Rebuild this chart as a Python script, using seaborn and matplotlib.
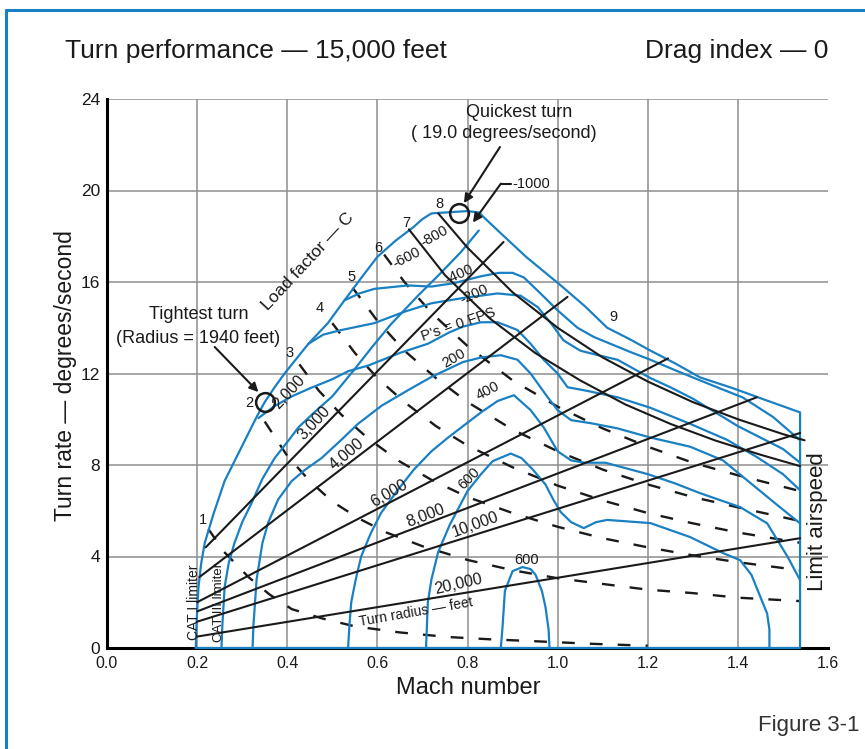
import matplotlib
matplotlib.use('Agg')
import matplotlib.pyplot as plt
import pandas as pd
import seaborn as sns
from matplotlib.lines import Line2D

BLUE = '#1a80c4'
INK = '#1a1a1a'
GRID = '#8e8e8e'

# axes ticks
MACH_TICKS = [0.0, 0.2, 0.4, 0.6, 0.8, 1.0, 1.2, 1.4, 1.6]
RATE_TICKS = [0, 4, 8, 12, 16, 20, 24]

# outer envelope (lift limit, 9 g limit, limit airspeed, floor)
env_m = [0.197, 0.199, 0.203, 0.209, 0.217, 0.237, 0.261, 0.299, 0.332, 0.35, 0.372, 0.394,
         0.447, 0.49, 0.527, 0.565, 0.60, 0.64, 0.68, 0.70, 0.72, 0.76, 0.80, 0.825, 0.87,
         0.93, 1.007, 1.06, 1.11, 1.16, 1.206, 1.26, 1.316, 1.39, 1.46, 1.538, 1.538, 0.197]
env_r = [0, 1.2, 2.66, 3.7, 4.6, 5.9, 7.3, 8.8, 10.1, 10.75, 11.4, 12.0,
         13.3, 14.2, 15.2, 16.2, 17.1, 17.8, 18.4, 18.75, 19.0, 19.05, 19.1, 19.04, 18.2,
         17.1, 15.85, 14.95, 14.0, 13.5, 13.0, 12.45, 11.83, 11.35, 10.85, 10.3, 0, 0]

# specific excess power contours (blue)
psm1000_m = [0.254, 0.256, 0.261, 0.270, 0.283, 0.30, 0.32, 0.345, 0.372, 0.40, 0.425, 0.46,
             0.50, 0.55, 0.59, 0.63, 0.69, 0.741, 0.785, 0.825]
psm1000_r = [0, 1.0, 2.66, 3.7, 4.6, 5.5, 6.3, 7.4, 8.3, 9.0, 9.65, 10.3,
             11.0, 12.2, 13.2, 14.15, 15.4, 16.4, 17.3, 18.25]

psm400_m = [0.527, 0.56, 0.593, 0.668, 0.72, 0.77, 0.83, 0.87, 0.90, 0.925, 0.962, 1.0,
            1.044, 1.08, 1.117, 1.16, 1.206, 1.26, 1.316, 1.36, 1.41, 1.478, 1.538]
psm400_r = [15.2, 15.5, 15.7, 15.85, 15.8, 15.95, 16.25, 16.4, 16.4, 16.2, 15.5, 14.76,
            14.0, 13.6, 13.3, 12.95, 12.6, 12.15, 11.7, 11.35, 10.96, 10.1, 9.08]

psm200_m = [0.447, 0.48, 0.52, 0.593, 0.66, 0.72, 0.79, 0.867, 0.918, 0.956, 0.985, 1.013,
            1.05, 1.09, 1.133, 1.206, 1.25, 1.30, 1.35, 1.40, 1.45, 1.50, 1.538]
psm200_r = [13.3, 13.7, 13.9, 14.2, 14.7, 15.07, 15.3, 15.5, 15.4, 14.9, 14.2, 13.45,
            13.0, 12.8, 12.6, 11.8, 11.4, 10.9, 10.3, 9.7, 9.2, 8.7, 8.1]

ps0_m = [0.336, 0.37, 0.41, 0.45, 0.50, 0.535, 0.58, 0.65, 0.712, 0.76, 0.79, 0.83, 0.867,
         0.911, 0.94, 0.969, 1.0, 1.022, 1.058, 1.133, 1.206, 1.294, 1.376, 1.442, 1.50, 1.538]
ps0_r = [10.05, 10.55, 11.0, 11.35, 11.75, 12.1, 12.35, 12.9, 13.3, 13.8, 14.05, 14.24, 14.24,
         13.9, 13.3, 12.6, 12.0, 11.4, 11.27, 10.96, 10.5, 9.8, 9.1, 8.35, 7.6, 6.9]

ps200_m = [0.323, 0.325, 0.332, 0.345, 0.358, 0.38, 0.41, 0.44, 0.476, 0.52, 0.557, 0.61,
           0.668, 0.72, 0.79, 0.83, 0.874, 0.911, 0.94, 0.978, 1.0, 1.03, 1.073, 1.133,
           1.206, 1.294, 1.367, 1.42, 1.493, 1.538]
ps200_r = [0, 1.0, 3.0, 4.6, 5.5, 6.5, 7.3, 7.8, 8.3, 9.1, 9.8, 10.6,
           11.27, 11.85, 12.5, 12.7, 12.8, 12.6, 12.0, 10.96, 10.4, 9.96, 9.83, 9.6,
           9.2, 8.8, 8.2, 7.34, 6.16, 5.45]

ps400_m = [0.535, 0.538, 0.542, 0.552, 0.564, 0.585, 0.608, 0.645, 0.681, 0.72, 0.757, 0.79,
           0.83, 0.867, 0.903, 0.94, 0.969, 1.0, 1.03, 1.06, 1.106, 1.20, 1.26, 1.316,
           1.405, 1.465, 1.51, 1.538]
ps400_r = [0, 1.0, 2.0, 3.0, 4.0, 5.0, 5.9, 6.9, 7.8, 8.6, 9.2, 9.7,
           10.3, 10.8, 11.05, 10.4, 9.65, 8.6, 8.2, 8.1, 8.1, 7.6, 7.2, 6.77,
           6.16, 5.45, 4.0, 2.97]

ps600_m = [0.708, 0.71, 0.712, 0.72, 0.735, 0.761, 0.80, 0.83, 0.856, 0.896, 0.92, 0.945,
           0.973, 0.99, 1.007, 1.03, 1.058, 1.085, 1.11, 1.206, 1.294, 1.367, 1.405, 1.43,
           1.45, 1.465, 1.47, 1.47]
ps600_r = [0, 1.0, 2.0, 3.0, 4.2, 5.4, 6.86, 7.6, 8.17, 8.5, 8.3, 7.8,
           7.15, 6.5, 5.94, 5.5, 5.24, 5.5, 5.6, 5.46, 4.85, 4.15, 3.84, 3.2,
           2.23, 1.5, 0.8, 0]

ps600b_m = [0.874, 0.878, 0.883, 0.90, 0.922, 0.94, 0.951, 0.965, 0.973, 0.98, 0.982]
ps600b_r = [0, 1.0, 2.5, 3.36, 3.54, 3.45, 3.2, 2.5, 1.8, 0.8, 0]

# load factor lines (1-6 dashed, 7-8 solid)
lf1_m = [0.225, 0.26, 0.314, 0.36, 0.41, 0.476, 0.549, 0.65, 0.757, 0.85, 0.945, 1.08, 1.2]
lf1_r = [5.2, 4.2, 3.1, 2.35, 1.7, 1.3, 0.95, 0.68, 0.48, 0.38, 0.3, 0.18, 0.1]
lf2_m = [0.35, 0.40, 0.45, 0.50, 0.56, 0.62, 0.70, 0.80, 0.90, 1.00, 1.10, 1.20, 1.30, 1.40, 1.538]
lf2_r = [9.9, 8.4, 7.3, 6.4, 5.65, 5.05, 4.45, 3.85, 3.4, 3.05, 2.8, 2.55, 2.4, 2.2, 2.05]
lf3_m = [0.427, 0.47, 0.52, 0.58, 0.65, 0.72, 0.80, 0.90, 1.00, 1.10, 1.20, 1.30, 1.40, 1.538]
lf3_r = [12.4, 11.25, 10.2, 9.15, 8.15, 7.35, 6.6, 5.9, 5.3, 4.8, 4.4, 4.05, 3.75, 3.4]
lf4_m = [0.50, 0.55, 0.60, 0.66, 0.73, 0.80, 0.90, 1.00, 1.10, 1.20, 1.30, 1.40, 1.538]
lf4_r = [14.2, 12.9, 11.8, 10.75, 9.7, 8.85, 7.9, 7.1, 6.45, 5.9, 5.45, 5.05, 4.6]
lf5_m = [0.545, 0.60, 0.66, 0.73, 0.80, 0.90, 1.00, 1.10, 1.20, 1.30, 1.40, 1.538]
lf5_r = [15.75, 14.3, 13.0, 11.8, 10.75, 9.55, 8.6, 7.8, 7.15, 6.6, 6.15, 5.55]
lf6_m = [0.615, 0.66, 0.72, 0.80, 0.90, 1.00, 1.10, 1.20, 1.30, 1.40, 1.538]
lf6_r = [17.2, 16.0, 14.65, 13.2, 11.7, 10.55, 9.6, 8.8, 8.1, 7.55, 6.86]
lf7_m = [0.67, 0.75, 0.85, 0.95, 1.05, 1.15, 1.25, 1.35, 1.45, 1.538]
lf7_r = [18.3, 16.3, 14.4, 12.9, 11.7, 10.65, 9.8, 9.07, 8.45, 7.95]
lf8_m = [0.735, 0.80, 0.90, 1.00, 1.10, 1.20, 1.30, 1.40, 1.50, 1.548]
lf8_r = [19.0, 17.5, 15.55, 14.0, 12.7, 11.65, 10.75, 10.0, 9.35, 9.08]

# turn radius lines: start and end points
radius_names = ['3,000', '4,000', '6,000', '8,000', '10,000', '20,000']
radius_m0 = [0.219, 0.205, 0.200, 0.200, 0.200, 0.200]
radius_r0 = [4.4, 3.1, 2.0, 1.6, 1.15, 0.5]
radius_m1 = [0.88, 1.022, 1.245, 1.442, 1.538, 1.538]
radius_r1 = [17.75, 15.35, 12.66, 10.96, 9.4, 4.8]

# labels on the chart: text, mach, rate, rotation
curve_labels = ['-600', '-800', '-400', '-200', "P's = 0 FPS", '200', '400', '600', '600']
curve_label_m = [0.664, 0.726, 0.781, 0.814, 0.779, 0.770, 0.845, 0.803, 0.930]
curve_label_r = [17.05, 18.0, 16.35, 15.46, 14.15, 12.67, 11.23, 7.4, 3.85]
curve_label_rot = [27, 29, 24, 24, 19, 30, 27, 45, 0]

radius_labels = ['2,000', '3,000', '4,000', '6,000', '8,000', '10,000', '20,000', 'Turn radius \u2014 feet']
radius_label_m = [0.403, 0.460, 0.531, 0.626, 0.706, 0.818, 0.779, 0.686]
radius_label_r = [11.2, 9.83, 8.48, 6.78, 5.77, 5.38, 2.8, 1.55]
radius_label_rot = [47, 47, 40, 30, 21, 20, 13, 10]

g_labels = ['1', '2', '3', '4', '5', '6', '7', '8', '9']
g_label_m = [0.214, 0.316, 0.405, 0.473, 0.542, 0.602, 0.664, 0.737, 1.124]
g_label_r = [5.6, 10.7, 12.9, 14.85, 16.2, 17.47, 18.6, 19.43, 14.45]


def long_frame(curves):
    parts = []
    for name, (m, r) in curves.items():
        parts.append(pd.DataFrame({'mach': m, 'rate': r, 'curve': name}))
    return pd.concat(parts, ignore_index=True)


blue_df = long_frame({
    'envelope': (env_m, env_r), '-1000': (psm1000_m, psm1000_r),
    '-400': (psm400_m, psm400_r), '-200': (psm200_m, psm200_r), '0': (ps0_m, ps0_r),
    '200': (ps200_m, ps200_r), '400': (ps400_m, ps400_r), '600': (ps600_m, ps600_r),
    '600b': (ps600b_m, ps600b_r),
})
dashed_df = long_frame({
    'n1': (lf1_m, lf1_r), 'n2': (lf2_m, lf2_r), 'n3': (lf3_m, lf3_r),
    'n4': (lf4_m, lf4_r), 'n5': (lf5_m, lf5_r), 'n6': (lf6_m, lf6_r),
})
solid_df = long_frame({'n7': (lf7_m, lf7_r), 'n8': (lf8_m, lf8_r)})
radius_df = long_frame({name: ([m0, m1], [r0, r1]) for name, m0, r0, m1, r1 in
                        zip(radius_names, radius_m0, radius_r0, radius_m1, radius_r1)})

sns.set_theme(style='white')
plt.rcParams['font.family'] = ['Liberation Sans', 'DejaVu Sans']

fig = plt.figure(figsize=(8.65, 7.49), dpi=100)
ax = fig.add_axes([107 / 865, 101 / 749, 721 / 865, 549 / 749])
ax.set_xlim(0, 1.6)
ax.set_ylim(0, 24)

# grid
for v in RATE_TICKS[1:]:
    ax.axhline(v, color=GRID, lw=1.1, zorder=1)
for v in MACH_TICKS[1:-1]:
    ax.axvline(v, color=GRID, lw=1.1, zorder=1)

sns.lineplot(data=dashed_df, x='mach', y='rate', units='curve', estimator=None, sort=False,
             color=INK, lw=1.7, linestyle=(0, (5.4, 6.4)), legend=False, ax=ax, zorder=2)
sns.lineplot(data=blue_df, x='mach', y='rate', units='curve', estimator=None, sort=False,
             color=BLUE, lw=1.6, legend=False, ax=ax, zorder=3, clip_on=False)
sns.lineplot(data=solid_df, x='mach', y='rate', units='curve', estimator=None, sort=False,
             color=INK, lw=1.5, legend=False, ax=ax, zorder=4, clip_on=False)
sns.lineplot(data=radius_df, x='mach', y='rate', units='curve', estimator=None, sort=False,
             color=INK, lw=1.5, legend=False, ax=ax, zorder=4, clip_on=False)

# quickest / tightest turn markers
ax.plot([0.781], [19.0], marker='o', ms=13.5, mfc='none', mec=INK, mew=1.8, zorder=5)
ax.plot([0.350], [10.75], marker='o', ms=13.5, mfc='none', mec=INK, mew=1.8, zorder=5)

arrow = dict(arrowstyle='-|>', color=INK, lw=1.5, mutation_scale=13, shrinkA=0, shrinkB=0)
ax.annotate('', xy=(0.336, 11.19), xytext=(0.239, 13.16), arrowprops=arrow, zorder=6)
ax.annotate('', xy=(0.792, 19.45), xytext=(0.872, 21.9), arrowprops=arrow, zorder=6)
ax.plot([0.896, 0.874], [20.3, 20.3], color=INK, lw=1.5, zorder=6)
ax.annotate('', xy=(0.812, 18.6), xytext=(0.874, 20.3), arrowprops=arrow, zorder=6)
ax.text(0.900, 20.3, '-1000', fontsize=10.5, ha='left', va='center', color=INK)

ax.text(0.914, 23.43, 'Quickest turn', fontsize=13, ha='center', va='center', color=INK)
ax.text(0.881, 22.51, '( 19.0 degrees/second)', fontsize=13, ha='center', va='center', color=INK)
ax.text(0.203, 14.56, 'Tightest turn', fontsize=13, ha='center', va='center', color=INK)
ax.text(0.203, 13.55, '(Radius = 1940 feet)', fontsize=13, ha='center', va='center', color=INK)
ax.text(0.447, 16.9, 'Load factor \u2014 C', fontsize=12.5, rotation=47,
        ha='center', va='center', color=INK)

for t, m, r, rot in zip(curve_labels, curve_label_m, curve_label_r, curve_label_rot):
    ax.text(m, r, t, fontsize=10.5, rotation=rot, ha='center', va='center', color=INK, zorder=7)
for t, m, r, rot in zip(radius_labels, radius_label_m, radius_label_r, radius_label_rot):
    fs = 10 if 'feet' in t else 11.5
    ax.text(m, r, t, fontsize=fs, rotation=rot, ha='center', va='center', color=INK, zorder=7)
for t, m, r in zip(g_labels, g_label_m, g_label_r):
    ax.text(m, r, t, fontsize=10.5, ha='center', va='center', color=INK, zorder=7)

ax.text(0.193, 2.0, 'CAT I limiter', fontsize=10, rotation=90, ha='center', va='center', color=INK)
ax.text(0.249, 2.0, 'CAT III limiter', fontsize=9.5, rotation=90, ha='center', va='center', color=INK)

# axes styling
for side in ['top', 'right']:
    ax.spines[side].set_visible(False)
for side in ['left', 'bottom']:
    ax.spines[side].set_color('black')
    ax.spines[side].set_linewidth(2.2)
ax.set_xticks(MACH_TICKS)
ax.set_xticklabels([f'{v:.1f}' for v in MACH_TICKS])
ax.set_yticks(RATE_TICKS)
ax.set_yticklabels([str(v) for v in RATE_TICKS])
ax.tick_params(axis='x', length=0, pad=6, labelsize=11.5, labelcolor=INK)
ax.tick_params(axis='y', length=0, pad=5, labelsize=12.5, labelcolor=INK)
ax.set_xlabel('')
ax.set_ylabel('')
ax.grid(False)

fig.text(65 / 865, 1 - 58 / 749, 'Turn performance \u2014 15,000 feet', fontsize=19,
         ha='left', va='baseline', color=INK)
fig.text(828 / 865, 1 - 58 / 749, 'Drag index \u2014 0', fontsize=19,
         ha='right', va='baseline', color=INK)
fig.text(66 / 865, 1 - 376 / 749, 'Turn rate \u2014 degrees/second', fontsize=16.5,
         rotation=90, ha='center', va='center', color=INK)
fig.text(468 / 865, 1 - 694 / 749, 'Mach number', fontsize=17, ha='center', va='baseline', color=INK)
fig.text(817 / 865, 1 - 522 / 749, 'Limit airspeed', fontsize=16, rotation=90,
         ha='center', va='center', color=INK)
fig.text(859 / 865, 1 - 731 / 749, 'Figure 3-1', fontsize=16, ha='right', va='baseline', color='#333333')

# blue frame around the figure
fig.add_artist(Line2D([6 / 865, 6 / 865], [0, 1 - 9.5 / 749], transform=fig.transFigure,
                      color=BLUE, lw=2.2))
fig.add_artist(Line2D([6 / 865, 1], [1 - 9.5 / 749, 1 - 9.5 / 749], transform=fig.transFigure,
                      color=BLUE, lw=2.2))

fig.savefig('out.png', dpi=100)
plt.close(fig)
